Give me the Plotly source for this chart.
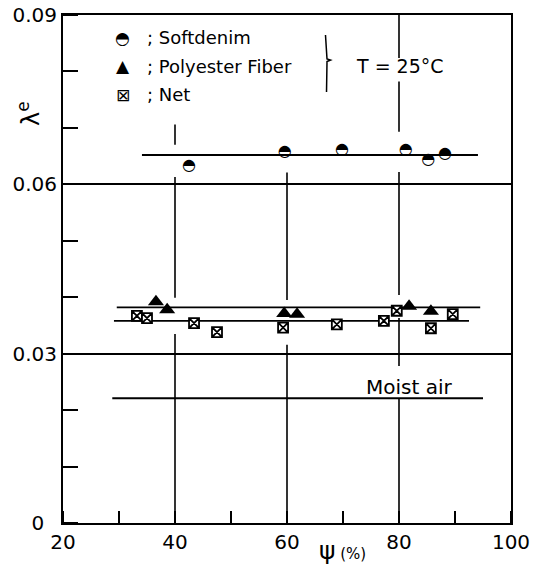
import plotly.graph_objects as go

# ---- data ----
soft_x = [42.5, 59.6, 69.8, 81.2, 85.2, 88.2]
soft_y = [0.0632, 0.0658, 0.0661, 0.0660, 0.0644, 0.0654]

poly_x = [36.6, 38.6, 59.5, 61.8, 81.8, 85.7]
poly_y = [0.0392, 0.0378, 0.0371, 0.0370, 0.0384, 0.0375]

net_x = [33.2, 35.0, 43.4, 47.5, 59.3, 68.9, 77.3, 79.6, 85.7, 89.6]
net_y = [0.0367, 0.0363, 0.0354, 0.0338, 0.0346, 0.0352, 0.0358, 0.0376, 0.0345, 0.0370]

soft_fit_x = [34.1, 94.1]
soft_fit_y = [0.0652, 0.0652]
poly_fit_x = [29.6, 94.5]
poly_fit_y = [0.0382, 0.0382]
net_fit_x = [29.1, 92.5]
net_fit_y = [0.0358, 0.0358]
air_x = [28.8, 95.0]
air_y = [0.0221, 0.0221]

x_ticks = [20, 40, 60, 80, 100]
x_tick_labels = ["20", "40", "60", "80", "100"]
y_ticks = [0, 0.03, 0.06, 0.09]
y_tick_labels = ["0\u2007", "0.03", "0.06", "0.09"]

# vertical grid line pieces (x, y_from, y_to), broken round marks and text
grid_pieces = [
    (40, 0.0, 0.0335), (40, 0.0399, 0.0613), (40, 0.0670, 0.0706),
    (60, 0.0, 0.0316), (60, 0.0395, 0.0621),
    (80, 0.0, 0.0221), (80, 0.0278, 0.0363), (80, 0.0404, 0.0622),
    (80, 0.0693, 0.0782), (80, 0.0824, 0.09),
]

FONT = "DejaVu Sans"
W, H = 543, 565
ML, MR, MT, MB = 63, 32, 15, 42
PW, PH = W - ML - MR, H - MT - MB


def px(p):  # pixel column -> paper x
    return (p - ML) / PW


def py(p):  # pixel row -> paper y
    return (H - MB - p) / PH


fig = go.Figure()

line_style = dict(color="black", width=1.8)
for fx, fy in [(soft_fit_x, soft_fit_y), (poly_fit_x, poly_fit_y),
               (net_fit_x, net_fit_y), (air_x, air_y)]:
    fig.add_trace(go.Scatter(x=fx, y=fy, mode="lines", line=line_style,
                             showlegend=False, hoverinfo="skip"))

fig.add_trace(go.Scatter(
    x=net_x, y=net_y, mode="markers", showlegend=False,
    marker=dict(symbol="square-x", size=10, color="white",
                line=dict(color="black", width=1.8))))
fig.add_trace(go.Scatter(
    x=poly_x, y=poly_y, mode="markers", showlegend=False,
    marker=dict(symbol="triangle-up", size=14, color="black",
                line=dict(color="black", width=0))))
fig.add_trace(go.Scatter(
    x=soft_x, y=soft_y, mode="text", text=["◓"] * len(soft_x),
    textposition="middle center", showlegend=False,
    textfont=dict(family=FONT, size=16, color="black")))

for gx, y0, y1 in grid_pieces:
    fig.add_shape(type="line", xref="x", yref="y", x0=gx, x1=gx, y0=y0, y1=y1,
                  line=dict(color="black", width=1.6), layer="below")

# thin brace beside the legend
brace = [(325.5, 35), (327, 59), (330.5, 60), (327, 61.5), (326.5, 92)]
path = "M " + " L ".join(f"{px(a):.4f},{py(b):.4f}" for a, b in brace)
fig.add_shape(type="path", xref="paper", yref="paper", path=path,
              line=dict(color="black", width=1.5))

ann = []
legend_rows = [("◓", "; Softdenim", 0.0860), ("▲", "; Polyester Fiber", 0.0809),
               ("⊠", "; Net", 0.0759)]
for sym, label, yy in legend_rows:
    ann.append(dict(x=30.7, y=yy, xref="x", yref="y", text=sym, showarrow=False,
                    xanchor="center", yanchor="middle",
                    font=dict(family=FONT, size=17, color="black")))
    ann.append(dict(x=34.6, y=yy, xref="x", yref="y", text=label, showarrow=False,
                    xanchor="left", yanchor="middle",
                    font=dict(family=FONT, size=18, color="black")))
ann.append(dict(x=80.2, y=0.0809, xref="x", yref="y", text="T = 25°C", showarrow=False,
                xanchor="center", yanchor="middle",
                font=dict(family=FONT, size=19, color="black")))
ann.append(dict(x=81.8, y=0.0241, xref="x", yref="y", text="Moist air", showarrow=False,
                xanchor="center", yanchor="middle",
                font=dict(family=FONT, size=20, color="black")))
ann.append(dict(x=px(342), y=py(550), xref="paper", yref="paper",
                text="ψ<span style='font-size:15px'> (%)</span>", showarrow=False,
                xanchor="center", yanchor="middle",
                font=dict(family=FONT, size=25, color="black")))
ann.append(dict(x=px(29), y=py(114), xref="paper", yref="paper",
                text="λ<sup>e</sup>", showarrow=False, textangle=-90,
                xanchor="center", yanchor="middle",
                font=dict(family=FONT, size=24, color="black")))

fig.update_layout(
    width=W, height=H,
    margin=dict(l=ML, r=MR, t=MT, b=MB, autoexpand=False),
    paper_bgcolor="white", plot_bgcolor="white",
    annotations=ann,
    font=dict(family=FONT, size=20, color="black"),
)
fig.update_xaxes(
    range=[20, 100], tickvals=x_ticks, ticktext=x_tick_labels,
    showgrid=False, zeroline=False, showline=True, linecolor="black",
    linewidth=2, mirror=True, ticks="", automargin=False,
    tickfont=dict(family=FONT, size=20, color="black"),
    minor=dict(dtick=10, tick0=20, ticks="inside", ticklen=12,
               tickwidth=1.6, tickcolor="black", showgrid=False),
)
fig.update_yaxes(
    range=[0, 0.09], tickvals=y_ticks, ticktext=y_tick_labels,
    showgrid=True, gridcolor="black", gridwidth=1.6, zeroline=False,
    showline=True, linecolor="black", linewidth=2, mirror=True, ticks="",
    automargin=False,
    tickfont=dict(family=FONT, size=20, color="black"),
    minor=dict(dtick=0.01, tick0=0, ticks="inside", ticklen=15,
               tickwidth=1.6, tickcolor="black", showgrid=False),
)

fig.write_html("out.html",
               config={"displayModeBar": False},
               post_script="document.body.style.margin='0';"
                           "document.body.style.padding='0';")
